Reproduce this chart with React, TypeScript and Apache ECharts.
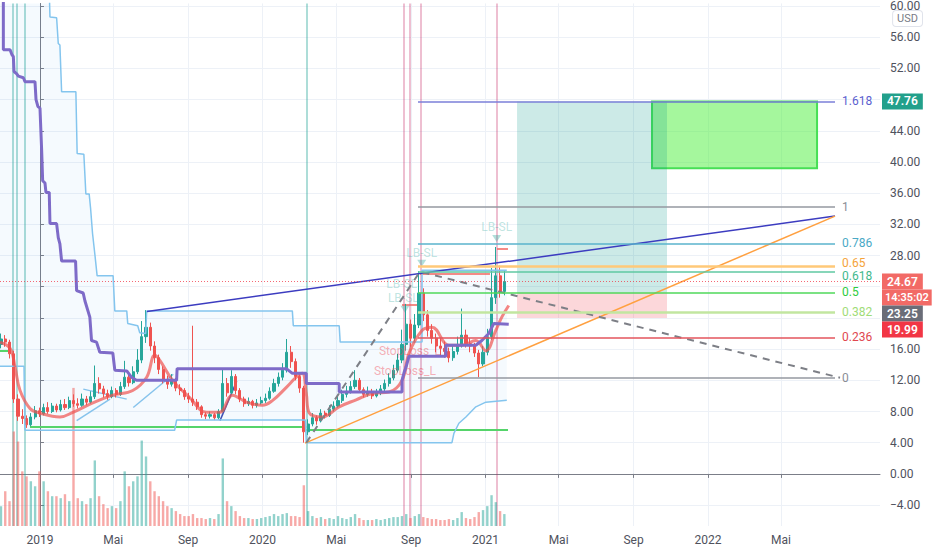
import React, { useEffect, useRef } from "react";
import * as echarts from "echarts";

// ---- time helpers: x values are days counted from 2019-01-01 ----
const DAY0 = Date.UTC(2019, 0, 1);
const dayOf = (iso: string): number => (Date.parse(iso + "T00:00:00Z") - DAY0) / 86400000;

// ---- axis ticks ----
const xTickDates = ["2019-01-01", "2019-05-01", "2019-09-01", "2020-01-01", "2020-05-01", "2020-09-01", "2021-01-01", "2021-05-01", "2021-09-01", "2022-01-01", "2022-05-01"];
const xTickLabels = ["2019", "Mai", "Sep", "2020", "Mai", "Sep", "2021", "Mai", "Sep", "2022", "Mai"];
const yTickValues = [-4, 0, 4, 8, 12, 16, 20, 24, 28, 32, 36, 40, 44, 48, 52, 56, 60];
// 48, 24 and 20 are hidden behind the price badges in the reference
const yLabelValues = [-4, 0, 4, 8, 12, 16, 28, 32, 36, 40, 44, 52, 56, 60];

// ---- weekly candles [open, close, low, high], first week starts 2018-10-29 ----
const firstCandleDate = "2018-10-29";
const candles: number[][] = [
  [16.6, 17.3, 16.1, 18.0], [17.3, 16.9, 16.3, 17.8], [16.9, 15.4, 14.8, 17.2], [15.4, 9.6, 9.1, 15.8], [9.6, 7.4, 6.8, 10.2],
  [7.4, 7.1, 6.4, 8.3], [7.1, 6.3, 5.9, 7.5], [6.3, 7.3, 6.1, 7.8], [7.3, 8.1, 7.0, 8.7], [8.1, 7.7, 7.3, 8.5],
  [7.7, 8.5, 7.5, 9.0], [8.5, 8.0, 7.7, 9.2], [8.0, 8.7, 7.8, 9.1], [8.7, 8.2, 7.9, 9.0], [8.2, 8.9, 8.0, 9.5],
  [8.9, 8.5, 8.2, 9.6], [8.5, 9.4, 8.3, 9.9], [9.4, 9.0, 8.6, 10.2], [9.0, 8.8, 8.4, 9.7], [8.8, 9.6, 8.6, 10.3],
  [9.6, 9.2, 8.8, 10.0], [9.2, 9.9, 9.0, 10.6], [9.9, 11.6, 9.6, 13.9], [11.6, 10.9, 10.3, 12.4], [10.9, 10.3, 9.8, 11.3],
  [10.3, 9.9, 9.5, 10.8], [9.9, 10.7, 9.7, 11.2], [10.7, 10.2, 9.8, 11.0], [10.2, 11.2, 10.0, 11.8], [11.2, 12.4, 10.9, 14.5],
  [12.4, 11.7, 11.2, 12.9], [11.7, 13.1, 11.5, 13.8], [13.1, 14.6, 12.8, 16.0], [14.6, 17.6, 14.2, 19.6], [17.6, 18.8, 16.8, 21.0],
  [18.8, 16.4, 15.8, 19.4], [16.4, 14.9, 14.2, 17.0], [14.9, 13.4, 12.8, 15.3], [13.4, 12.1, 11.6, 13.8], [12.1, 11.5, 10.9, 12.6],
  [11.5, 12.1, 11.2, 12.8], [12.1, 11.0, 10.6, 12.3], [11.0, 10.7, 10.1, 11.5], [10.7, 9.9, 9.5, 11.0], [9.9, 9.6, 9.1, 10.4],
  [9.6, 9.2, 8.7, 19.0], [9.2, 8.6, 8.2, 9.6], [8.6, 7.6, 7.2, 8.8], [7.6, 7.4, 7.0, 7.9], [7.4, 7.6, 7.1, 8.0],
  [7.6, 7.2, 6.9, 7.8], [7.2, 8.0, 7.0, 8.3], [8.0, 11.6, 7.9, 13.5], [11.6, 10.4, 9.9, 12.3], [10.4, 12.5, 10.2, 13.3],
  [12.5, 10.7, 10.2, 12.8], [10.7, 9.6, 9.2, 11.0], [9.6, 9.0, 8.6, 9.9], [9.0, 9.3, 8.7, 9.8], [9.3, 8.8, 8.4, 9.5],
  [8.8, 9.1, 8.5, 9.6], [9.1, 9.4, 8.9, 9.9], [9.4, 9.7, 9.1, 10.3], [9.7, 10.6, 9.5, 11.1], [10.6, 11.6, 10.4, 12.2],
  [11.6, 12.4, 11.2, 13.0], [12.4, 13.3, 12.0, 14.2], [13.3, 15.6, 13.0, 17.3], [15.6, 14.4, 13.6, 16.4], [14.4, 12.5, 12.0, 14.8],
  [12.5, 11.0, 10.4, 12.9], [11.0, 5.4, 4.0, 11.3], [5.4, 6.4, 5.0, 7.0], [6.4, 7.2, 6.1, 7.8], [7.2, 6.8, 6.3, 7.5],
  [6.8, 7.8, 6.6, 8.3], [7.8, 7.5, 7.1, 8.1], [7.5, 8.3, 7.3, 8.8], [8.3, 8.7, 8.0, 9.3], [8.7, 9.4, 8.5, 10.0],
  [9.4, 10.2, 9.1, 10.8], [10.2, 10.6, 9.8, 11.3], [10.6, 11.2, 10.3, 11.9], [11.2, 12.0, 10.9, 13.3], [12.0, 10.8, 10.4, 12.3],
  [10.8, 10.2, 9.8, 11.1], [10.2, 10.5, 9.9, 11.2], [10.5, 10.0, 9.6, 10.9], [10.0, 10.4, 9.8, 10.9], [10.4, 10.9, 10.1, 11.4],
  [10.9, 11.6, 10.6, 12.1], [11.6, 12.3, 11.2, 12.9], [12.3, 13.3, 12.0, 14.0], [13.3, 14.6, 13.0, 15.4], [14.6, 16.6, 14.2, 18.5],
  [16.6, 19.2, 15.8, 21.8], [19.2, 17.4, 16.3, 19.8], [17.4, 19.1, 16.8, 20.5], [19.1, 23.2, 18.7, 26.0], [23.2, 20.4, 19.6, 23.8],
  [20.4, 18.4, 17.6, 21.0], [18.4, 17.4, 16.7, 19.2], [17.4, 16.4, 15.6, 18.0], [16.4, 16.1, 15.2, 17.4], [16.1, 15.7, 14.9, 17.0],
  [15.7, 14.9, 14.3, 16.2], [14.9, 15.7, 14.5, 16.4], [15.7, 16.6, 15.3, 17.6], [16.6, 17.8, 16.2, 21.2], [17.8, 16.7, 16.2, 18.5],
  [16.7, 16.4, 15.6, 17.4], [16.4, 15.5, 15.0, 16.8], [15.5, 14.1, 12.4, 15.9], [14.1, 15.6, 13.8, 16.4], [15.6, 17.6, 15.2, 18.6],
  [17.6, 22.6, 17.2, 26.4], [22.6, 25.4, 21.8, 29.1], [25.4, 23.4, 22.6, 26.7], [23.4, 24.67, 22.9, 26.0],
];

// weekly volume (thousands)
const volumes = [
  200, 350, 250, 950, 850, 550, 500, 450, 400, 550,
  450, 350, 300, 300, 280, 320, 250, 1390, 280, 250,
  220, 280, 660, 300, 220, 180, 200, 180, 250, 550,
  400, 450, 500, 860, 700, 450, 350, 300, 250, 200,
  180, 150, 120, 100, 100, 120, 80, 80, 70, 80,
  70, 120, 680, 250, 200, 150, 100, 80, 80, 70,
  70, 80, 90, 100, 120, 100, 120, 130, 100, 100,
  90, 410, 150, 100, 80, 90, 70, 80, 70, 100,
  80, 70, 90, 120, 80, 60, 60, 60, 70, 60,
  70, 80, 90, 90, 100, 120, 80, 100, 120, 90,
  80, 70, 70, 60, 60, 70, 60, 80, 140, 80,
  70, 90, 140, 160, 200, 310, 240, 150, 120,
];

// ---- indicator lines: [day since 2019-01-01, price] ----
const trailingStop = [
  [-60.1, 64], [-60.1, 54.4], [-49.1, 54.4], [-46.3, 53.8], [-43.7, 53.5], [-42.6, 51.6], [-38.1, 51.3], [-35.5, 51.0],
  [-27.3, 50.8], [-24.6, 50.3], [-8.2, 50.3], [-6.5, 48.0], [-3.3, 47.1], [0, 46.9], [2.8, 41.4], [4.4, 37.6], [8.2, 37.3],
  [9.8, 36.1], [15.2, 36.1], [16.4, 32.1], [27.3, 32.1], [30.0, 30.3], [32.7, 29.5], [35.5, 27.3], [58.4, 27.3], [60.1, 23.5],
  [70.9, 23.2], [73.7, 22.2], [81.8, 20.1], [84.6, 17.1], [92.8, 16.9], [98.2, 15.6], [119.5, 15.5], [122.8, 13.3],
  [142.4, 13.2], [150.1, 12.4], [158.3, 12.0], [224.2, 12.0], [225.0, 13.5], [404.3, 13.5], [414.1, 12.9], [437.0, 12.9],
  [437.0, 11.6], [491.0, 11.6], [491.0, 10.5], [594.1, 10.5], [594.1, 12.0], [597.4, 13.0], [600.7, 13.7], [605.6, 15.1],
  [666.1, 15.1], [666.1, 16.5], [715.2, 16.5], [725.1, 17.1], [736.5, 18.0], [744.7, 19.3], [769.2, 19.2],
];
const bandUpper = [
  [15.2, 62], [16.4, 58.6], [27.3, 58.5], [30.0, 55.2], [32.7, 55.0], [35.5, 49.0], [58.9, 49.0], [61.0, 41.1], [72.0, 41.0],
  [75.3, 35.9], [80.7, 35.9], [83.0, 34.1], [86.3, 30.8], [90.0, 28.2], [93.8, 25.4], [120.0, 25.4], [122.8, 20.9],
  [142.4, 20.9], [144.0, 19.3], [160.4, 19.0], [163.7, 18.1], [173.5, 18.0], [175.1, 20.9], [414.1, 20.9], [415.7, 19.0],
  [491.0, 19.0], [492.6, 16.9], [626.9, 16.9], [626.9, 26.1], [766.0, 26.1],
];
const bandLower = [
  [-65.6, 13.8], [-26.2, 13.8], [-24.6, 5.6], [221.0, 5.6], [224.2, 6.9], [435.4, 6.9], [437.0, 4.0], [676.0, 4.0],
  [679.2, 5.2], [687.4, 6.5], [698.9, 7.3], [715.2, 8.6], [731.6, 9.2], [766.0, 9.45],
];
const movingAverage = [
  [-65.5, 16.9], [-49.1, 16.1], [-40.9, 13.7], [-32.7, 10.7], [-16.4, 8.4], [0, 7.8], [32.7, 7.3], [54.0, 7.9], [86.7, 9.1],
  [119.5, 10.1], [152.2, 10.7], [175.1, 12.4], [188.2, 15.2], [196.4, 14.6], [217.7, 12.0], [245.5, 9.8], [273.3, 7.9],
  [294.6, 7.9], [315.9, 10.1], [338.8, 9.2], [365.0, 8.8], [381.4, 9.4], [404.3, 11.1], [420.6, 12.4], [430.4, 12.9],
  [437.0, 10.3], [441.9, 7.8], [463.2, 7.3], [491.0, 8.6], [518.8, 9.5], [545.0, 10.3], [572.8, 10.5], [594.1, 12.0],
  [605.6, 15.5], [626.9, 18.4], [643.2, 18.8], [671.0, 16.5], [692.3, 16.5], [715.2, 17.1], [731.6, 15.8], [748.0, 18.4],
  [757.8, 20.1], [769.2, 21.6],
];

// ---- drawings ----
const supportLevels = [
  [[-65.6, 15.8], [-49.0, 15.8]],
  [[-16.4, 6.0], [437.0, 6.0]],
  [[437.0, 5.6], [768.0, 5.6]],
];
const stopLevels = [
  [[594.0, 21.7], [623.0, 21.7]],
  [[623.6, 25.7], [738.4, 25.7]],
  [[750.0, 28.9], [768.0, 28.9]],
];
const smallDiagonals = [
  [[60.2, 6.83], [114.9, 9.59]],
  [[71.1, 10.87], [142.3, 9.59]],
  [[153.1, 8.52], [218.7, 12.78]],
];
const blueDiagonal = [[295.4, 6.83], [322.8, 11.9]];
const channelTop = [[175.6, 20.84], [1304.6, 33.06]];
const channelBottom = [[434.9, 3.95], [1304.6, 33.06]];
const projectionPath = [[437.0, 4.0], [623.5, 25.94], [1312.8, 12.33]];

const tealMarkers = [-44.3, -37.7, -25.8, 438.1];
const pinkMarkers = [597.3, 607.2, 625.2, 749.4];

// Fibonacci retracement
const fibLow = 12.33;
const fibHigh = 34.24;
const fibStartDay = 620.3;
const fibEndDay = 1304.6;
const fibRatios = [1.618, 1, 0.786, 0.65, 0.618, 0.5, 0.382, 0.236, 0];
const fibLabels = ["1.618", "1", "0.786", "0.65", "0.618", "0.5", "0.382", "0.236", "0"];
const fibLineColors = ["#7b7fd8", "#9598a1", "#5ab3cc", "#ffc978", "#5fc9a2", "#4fd85a", "#c2e6a0", "#e3545c", "#9598a1"];
const fibTextColors = ["#5c5fcf", "#8a8d96", "#4aa9c6", "#f5a33a", "#3fb98d", "#2ecc40", "#9fdc78", "#e0474f", "#8a8d96"];
const fibWidths = [1.5, 1.5, 1.5, 2.5, 1.5, 1.5, 2.5, 1.5, 1.5];
// -1: lift the label a little, 1: drop it a little (keeps 0.65 / 0.618 legible)
const fibLabelShift = [0, 0, 0, -1, 1, 0, 0, 0, 0];

// position tool & target zone
const positionStartDay = 782.8;
const positionEndDay = 1028.9;
const targetPrice = 47.76;
const entryPrice = 23.25;
const stopPrice = 19.99;
const targetZone = [[1004.3, 47.76], [1275.1, 39.2]];

const lastPrice = 24.67;
const countdown = "14:35:02";

const lbslTexts = [
  { name: "LB-SL", value: [749.4, 31.7] },
  { name: "LB-SL", value: [626.4, 28.3] },
  { name: "LB-SL", value: [593.6, 24.4] },
  { name: "LB-SL", value: [596.2, 22.5] },
];
const lbslArrows = [[749.4, 30.2], [626.4, 27.0], [598.9, 21.1]];
const stopLossTexts = [
  { name: "StopLoss_L", value: [607.1, 15.7] },
  { name: "StopLoss_L", value: [598.9, 13.2] },
];

const FONT = "Roboto, 'Noto Sans', sans-serif";

function buildOption(): any {
  const xTickDays = xTickDates.map(dayOf);
  const start = dayOf(firstCandleDate);
  const candleData = candles.map((c, i) => [start + 7 * i, c[0], c[1], c[2], c[3]]);
  const volumeData = volumes.map((v, i) => ({
    value: [start + 7 * i, v],
    itemStyle: { color: candles[i][1] >= candles[i][0] ? "rgba(38,166,154,0.5)" : "rgba(239,83,80,0.5)" },
  }));
  const bandFillUpper = [[-66, 70], [15.2, 70]].concat(bandUpper);

  const seg = (pair: number[][], lineStyle: any) => [{ coord: pair[0], lineStyle }, { coord: pair[1] }];

  const fibData = fibRatios.map((r, k) => {
    const v = fibLow + r * (fibHigh - fibLow);
    const txt = "{t|" + fibLabels[k] + "}";
    const formatter = fibLabelShift[k] < 0 ? txt + "\n{s| }" : fibLabelShift[k] > 0 ? "{s| }\n" + txt : txt;
    return [
      {
        coord: [fibStartDay, v],
        lineStyle: { color: fibLineColors[k], width: fibWidths[k], type: "solid" },
        label: {
          show: true,
          position: "end",
          distance: 7,
          formatter,
          rich: {
            t: { color: fibTextColors[k], fontSize: 12, fontFamily: FONT, lineHeight: 13 },
            s: { fontSize: 6, lineHeight: 7 },
          },
        },
      },
      { coord: [fibEndDay, v] },
    ];
  });

  const badge = (bg: string, size = 12, padX = 5) => ({
    backgroundColor: bg,
    color: "#ffffff",
    fontSize: size,
    fontWeight: 600,
    fontFamily: FONT,
    height: 16,
    lineHeight: 16,
    padding: [0, padX],
  });

  const axisColor = "#7b7e88";
  const labelColor = "#4f525d";
  const gridColor = "#edf1f7";

  return {
    animation: false,
    backgroundColor: "#ffffff",
    grid: { left: 0, right: 52, top: 0, bottom: 24, containLabel: false },
    xAxis: {
      type: "value",
      min: -65.6,
      max: 1378.4,
      axisLine: { show: true, lineStyle: { color: axisColor, width: 1 } },
      axisTick: { show: true, customValues: xTickDays, length: 4, lineStyle: { color: axisColor } },
      axisLabel: {
        customValues: xTickDays,
        formatter: (v: number) => {
          const k = xTickDays.findIndex((d) => Math.abs(d - v) < 0.5);
          return k >= 0 ? xTickLabels[k] : "";
        },
        color: labelColor,
        fontSize: 12,
        fontFamily: FONT,
        margin: 8,
      },
      splitLine: { show: true, lineStyle: { color: gridColor, width: 1 } },
    },
    yAxis: [
      {
        type: "value",
        position: "right",
        min: -6.68,
        max: 60.33,
        axisLine: { show: true, lineStyle: { color: axisColor, width: 1 } },
        axisTick: { show: true, customValues: yTickValues, length: 4, lineStyle: { color: axisColor } },
        axisLabel: {
          customValues: yLabelValues,
          formatter: (v: number) => (v < 0 ? "\u2212" + Math.abs(v).toFixed(2) : v.toFixed(2)),
          color: labelColor,
          fontSize: 12,
          fontFamily: FONT,
          margin: 10,
        },
        splitLine: { show: true, lineStyle: { color: gridColor, width: 1 } },
      },
      { type: "value", min: 0, max: 5260, show: false, splitLine: { show: false } },
    ],
    graphic: [
      {
        type: "text",
        right: 9,
        top: 10,
        z: 100,
        style: {
          text: "USD",
          fill: "#787b86",
          font: "11px " + FONT,
          backgroundColor: "#ffffff",
          borderColor: "#e0e3eb",
          borderWidth: 1,
          borderRadius: 3,
          padding: [2, 4],
        },
      },
    ],
    series: [
      {
        name: "band fill",
        type: "custom",
        silent: true,
        clip: true,
        data: [[0, 0]],
        z: 1,
        renderItem: (params: any, api: any) => {
          const top = bandFillUpper.map((p) => api.coord(p));
          const bottom = bandLower.slice().reverse().map((p) => api.coord(p));
          return {
            type: "polygon",
            shape: { points: top.concat(bottom) },
            style: { fill: "rgba(33,150,243,0.045)" },
          };
        },
      },
      {
        name: "volume",
        type: "bar",
        yAxisIndex: 1,
        barWidth: 2.4,
        data: volumeData,
        silent: true,
      },
      {
        name: "markers",
        type: "line",
        data: [],
        silent: true,
        markLine: {
          silent: true,
          z: 1,
          symbol: ["none", "none"],
          label: { show: false },
          data: tealMarkers
            .map((d) => ({ xAxis: d, lineStyle: { color: "rgba(38,166,154,0.5)", width: 1.5, type: "solid" } }))
            .concat(pinkMarkers.map((d) => ({ xAxis: d, lineStyle: { color: "rgba(194,24,91,0.28)", width: 2, type: "solid" } }))),
        },
      },
      {
        name: "band upper",
        type: "line",
        data: bandUpper,
        symbol: "none",
        silent: true,
        lineStyle: { color: "#84c5ee", width: 1.5 },
      },
      {
        name: "band lower",
        type: "line",
        data: bandLower,
        symbol: "none",
        silent: true,
        lineStyle: { color: "#84c5ee", width: 1.5 },
      },
      {
        name: "levels",
        type: "line",
        data: [],
        silent: true,
        markLine: {
          silent: true,
          z: 2,
          symbol: ["none", "none"],
          label: { show: false },
          data: supportLevels
            .map((p) => seg(p, { color: "#55d46a", width: 2, type: "solid" }))
            .concat(stopLevels.map((p) => seg(p, { color: "rgba(242,100,95,0.75)", width: 2, type: "solid" })))
            .concat(smallDiagonals.map((p) => seg(p, { color: "#86c3ec", width: 1.5, type: "solid" })))
            .concat([seg(blueDiagonal, { color: "#3f51b5", width: 1.5, type: "solid" })]),
        },
      },
      {
        name: "moving average",
        type: "line",
        data: movingAverage,
        symbol: "none",
        smooth: 0.4,
        silent: true,
        lineStyle: { color: "rgba(239,83,80,0.7)", width: 3 },
      },
      {
        name: "trailing stop",
        type: "line",
        data: trailingStop,
        symbol: "none",
        silent: true,
        lineStyle: { color: "#7e6bc8", width: 3 },
      },
      {
        name: "price",
        type: "candlestick",
        data: candleData,
        encode: { x: 0, y: [1, 2, 3, 4] },
        barWidth: 2.6,
        silent: true,
        itemStyle: {
          color: "#26a69a",
          color0: "#ef5350",
          borderColor: "#26a69a",
          borderColor0: "#ef5350",
          borderWidth: 1,
        },
      },
      {
        name: "channel top",
        type: "line",
        data: channelTop,
        symbol: "none",
        silent: true,
        lineStyle: { color: "#3c3cc0", width: 1.5 },
      },
      {
        name: "channel bottom",
        type: "line",
        data: channelBottom,
        symbol: "none",
        silent: true,
        lineStyle: { color: "#ffa040", width: 1.5 },
      },
      {
        name: "projection",
        type: "line",
        data: projectionPath,
        symbol: "none",
        silent: true,
        lineStyle: { color: "#7d7f86", width: 2, type: [7, 6] },
      },
      {
        name: "target zone",
        type: "line",
        data: [],
        silent: true,
        markArea: {
          silent: true,
          itemStyle: { color: "rgba(76,240,60,0.5)", borderColor: "#47df55", borderWidth: 2 },
          data: [[{ coord: targetZone[0] }, { coord: targetZone[1] }]],
        },
      },
      {
        name: "position",
        type: "line",
        data: [],
        silent: true,
        markArea: {
          silent: true,
          data: [
            [
              { coord: [positionStartDay, targetPrice], itemStyle: { color: "rgba(0,150,136,0.2)" } },
              { coord: [positionEndDay, entryPrice] },
            ],
            [
              { coord: [positionStartDay, entryPrice], itemStyle: { color: "rgba(242,54,69,0.2)" } },
              { coord: [positionEndDay, stopPrice] },
            ],
          ],
        },
      },
      {
        name: "fib",
        type: "line",
        data: [],
        silent: true,
        markLine: {
          silent: true,
          symbol: ["none", "none"],
          data: fibData,
        },
      },
      {
        name: "lb-sl",
        type: "scatter",
        data: lbslTexts,
        symbolSize: 0,
        silent: true,
        label: { show: true, position: "inside", formatter: "{b}", color: "rgba(38,166,154,0.38)", fontSize: 12, fontFamily: FONT },
      },
      {
        name: "lb-sl arrows",
        type: "scatter",
        data: lbslArrows,
        symbol: "triangle",
        symbolRotate: 180,
        symbolSize: [9, 7],
        silent: true,
        itemStyle: { color: "rgba(38,166,154,0.45)" },
      },
      {
        name: "stoploss",
        type: "scatter",
        data: stopLossTexts,
        symbolSize: 0,
        silent: true,
        label: { show: true, position: "inside", formatter: "{b}", color: "rgba(242,54,69,0.5)", fontSize: 12, fontFamily: FONT },
      },
      {
        name: "price labels",
        type: "line",
        data: [],
        silent: true,
        markLine: {
          silent: true,
          z: 6,
          symbol: ["none", "none"],
          data: [
            {
              yAxis: targetPrice,
              lineStyle: { color: "rgba(0,0,0,0)", width: 0 },
              label: {
                show: true,
                position: "end",
                distance: 2,
                formatter: targetPrice.toFixed(2),
                ...badge("#22a08b"),
              },
            },
            {
              yAxis: lastPrice,
              lineStyle: { color: "rgba(242,54,69,0.75)", width: 1, type: [1, 2] },
              label: {
                show: true,
                position: "end",
                distance: 2,
                formatter:
                  "{e| }\n{e| }\n{e| }\n{a|" + lastPrice.toFixed(2) + "}\n{b|" + countdown + "}\n{c|" +
                  entryPrice.toFixed(2) + "}\n{d|" + stopPrice.toFixed(2) + "}",
                rich: {
                  e: { height: 16, lineHeight: 16, fontSize: 12 },
                  a: badge("#f26a66"),
                  b: badge("#f26a66", 11, 3),
                  c: badge("#6a6d78"),
                  d: badge("#f23645"),
                },
              },
            },
          ],
        },
      },
    ],
  };
}

export default function App() {
  const ref = useRef<HTMLDivElement>(null);
  useEffect(() => {
    if (!ref.current) return;
    const chart = echarts.init(ref.current, null, { renderer: "svg" });
    chart.setOption(buildOption());
    return () => chart.dispose();
  }, []);
  return (
    <div
      ref={ref}
      style={{ position: "fixed", left: 0, top: 0, width: 932, height: 550, background: "#ffffff" }}
    />
  );
}
